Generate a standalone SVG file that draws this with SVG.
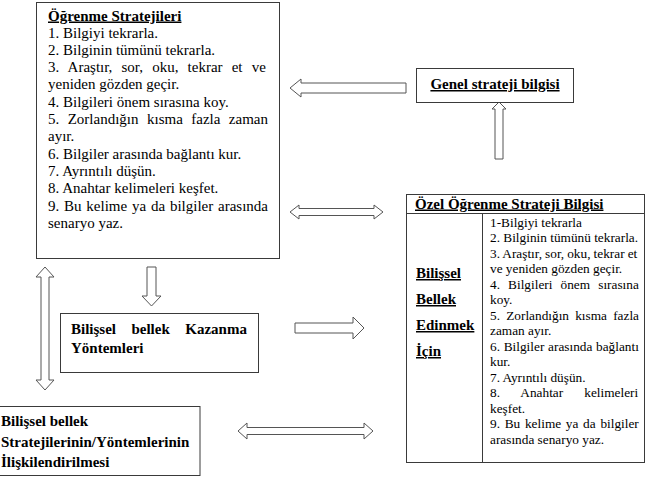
<svg xmlns="http://www.w3.org/2000/svg" width="650" height="477" viewBox="0 0 650 477">
<style>
.box{fill:#fff;stroke:#3a3a3a;stroke-width:1}
.arr{fill:#fff;stroke:#555;stroke-width:1;stroke-linejoin:miter}
text{font-family:"Liberation Serif","Times New Roman",serif;fill:#000}
.t{font-size:15px}
.s{font-size:13.3px}
.b{font-weight:bold;font-size:15px}
.u{text-decoration:underline}
</style>
<rect width="650" height="477" fill="#fff"/>
<g id="connectors">
<path class="arr" d="M290,88 L301,79 L301,83 L406,83 L406,93 L301,93 L301,97 Z"/>
<path class="arr" d="M499,102 L506,109 L503,109 L503,159 L495,159 L495,109 L492,109 Z"/>
<path class="arr" d="M290,212 L299,205 L299,208.5 L374,208.5 L374,205 L383,212 L374,219 L374,215.5 L299,215.5 L299,219 Z"/>
<path class="arr" d="M147,267 L156,267 L156,296 L161,296 L151.5,306 L142,296 L147,296 Z"/>
<path class="arr" d="M45,267 L54,277 L49,277 L49,380 L54,380 L45,390 L36,380 L41,380 L41,277 L36,277 Z"/>
<path class="arr" d="M295,323 L353,323 L353,317 L364,328 L353,339 L353,333 L295,333 Z"/>
<path class="arr" d="M238,431 L247,423 L247,427.5 L364,427.5 L364,423 L373,431 L364,439 L364,434.5 L247,434.5 L247,439 Z"/>
</g>
<g id="ogrenme-stratejileri">
<rect class="box" x="36.5" y="2.5" width="243" height="256"/>
<text class="b u" x="48" y="20.5">Öğrenme Stratejileri</text>
<text class="t" x="48" y="37.5">1. Bilgiyi tekrarla.</text>
<text class="t" x="48" y="54.8">2. Bilginin tümünü tekrarla.</text>
<text class="t" x="48" y="72.1" word-spacing="5.4">3. Araştır, sor, oku, tekrar et ve</text>
<text class="t" x="48" y="89.4">yeniden gözden geçir.</text>
<text class="t" x="48" y="106.7">4. Bilgileri önem sırasına koy.</text>
<text class="t" x="48" y="124" word-spacing="4.7">5. Zorlandığın kısma fazla zaman</text>
<text class="t" x="48" y="141.3">ayır.</text>
<text class="t" x="48" y="158.6">6. Bilgiler arasında bağlantı kur.</text>
<text class="t" x="48" y="175.9">7. Ayrıntılı düşün.</text>
<text class="t" x="48" y="193.2">8. Anahtar kelimeleri keşfet.</text>
<text class="t" x="48" y="210.5" word-spacing="1.05">9. Bu kelime ya da bilgiler arasında</text>
<text class="t" x="48" y="227.8">senaryo yaz.</text>
</g>
<g id="genel-strateji-bilgisi">
<rect class="box" x="416.5" y="68.5" width="157" height="34"/>
<text class="b u" x="495" y="89" text-anchor="middle">Genel strateji bilgisi</text>
</g>
<g id="ozel-ogrenme-strateji-bilgisi">
<rect class="box" x="406.5" y="194.5" width="238" height="268"/>
<line class="box" x1="406.5" y1="213.5" x2="644.5" y2="213.5"/>
<line class="box" x1="482.5" y1="213.5" x2="482.5" y2="462.5"/>
<text class="b u" x="415" y="208.5">Özel Öğrenme Strateji Bilgisi</text>
<text class="b u" x="416" y="278">Bilişsel</text>
<text class="b u" x="416" y="304">Bellek</text>
<text class="b u" x="416" y="330">Edinmek</text>
<text class="b u" x="416" y="356">İçin</text>
<text class="s" x="490" y="226.5">1-Bilgiyi tekrarla</text>
<text class="s" x="490" y="242">2. Bilginin tümünü tekrarla.</text>
<text class="s" x="490" y="257.5" word-spacing="-0.25">3. Araştır, sor, oku, tekrar et</text>
<text class="s" x="490" y="273">ve yeniden gözden geçir.</text>
<text class="s" x="490" y="288.5" word-spacing="4.8">4. Bilgileri önem sırasına</text>
<text class="s" x="490" y="304">koy.</text>
<text class="s" x="490" y="319.5" word-spacing="2.9">5. Zorlandığın kısma fazla</text>
<text class="s" x="490" y="335">zaman ayır.</text>
<text class="s" x="490" y="350.5" word-spacing="0.4">6. Bilgiler arasında bağlantı</text>
<text class="s" x="490" y="366">kur.</text>
<text class="s" x="490" y="381.5">7. Ayrıntılı düşün.</text>
<text class="s" x="490" y="397" word-spacing="17.8">8. Anahtar kelimeleri</text>
<text class="s" x="490" y="412.5">keşfet.</text>
<text class="s" x="490" y="428" word-spacing="1.4">9. Bu kelime ya da bilgiler</text>
<text class="s" x="490" y="443.5">arasında senaryo yaz.</text>
</g>
<g id="bilissel-bellek-kazanma">
<rect class="box" x="60.5" y="313.5" width="198" height="59"/>
<text class="b" x="71" y="333.5" word-spacing="11.7">Bilişsel bellek Kazanma</text>
<text class="b" x="71" y="353">Yöntemleri</text>
</g>
<g id="iliskilendirilmesi">
<rect class="box" x="-1" y="406.5" width="201" height="69"/>
<text class="b" x="1" y="426">Bilişsel bellek</text>
<text class="b" x="1" y="446.5">Stratejilerinin/Yöntemlerinin</text>
<text class="b" x="1" y="467">İlişkilendirilmesi</text>
</g>
</svg>
